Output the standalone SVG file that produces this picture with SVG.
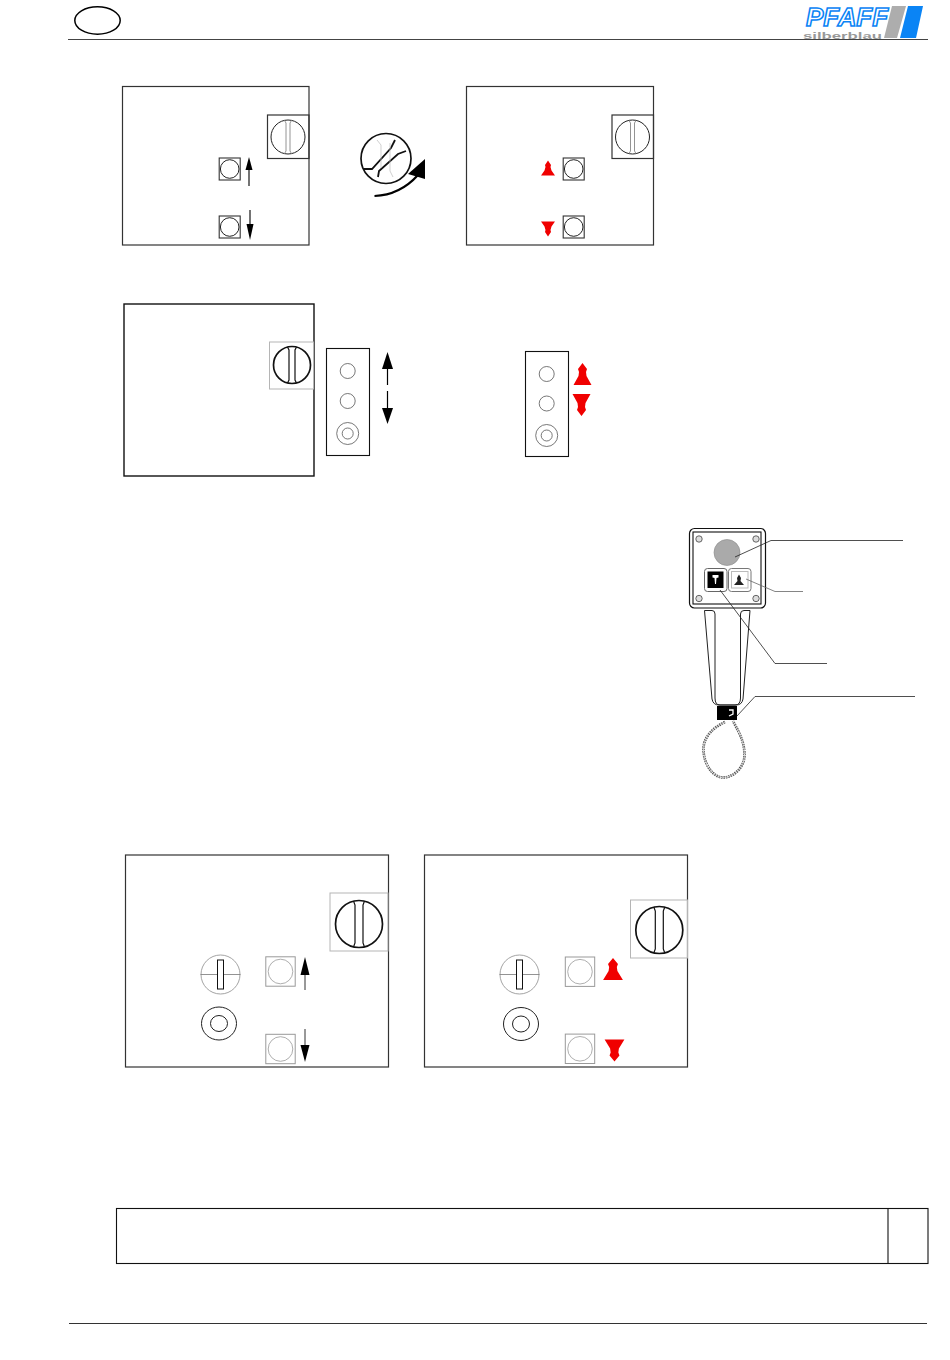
<svg xmlns="http://www.w3.org/2000/svg" xmlns:xlink="http://www.w3.org/1999/xlink" width="950" height="1360" viewBox="0 0 950 1360">
<style>
.l{fill:none;stroke:#222;stroke-width:1}
.p{fill:none;stroke:#333;stroke-width:1.2}
.g{fill:none;stroke:#b5b5b5;stroke-width:1}
.t{fill:none;stroke:#999;stroke-width:1}
.k{fill:none;stroke:#111;stroke-width:1.700}
.f{fill:none;stroke:#555;stroke-width:.8}
.r{fill:#f00000}
.b{fill:#000}
.s{fill:#ddd;stroke:#444;stroke-width:.8}
</style>
<defs>
<g id="knob"><circle r="17" class="l"/><path d="M-3.500-16.500L-2-14V14L-3.500 16.500M3.500-16.500L2-14V14L3.500 16.500" fill="none" stroke="#888" stroke-width=".9"/></g>
<g id="knobB"><circle r="23.500" class="k"/><path d="M-5.500-23L-4-19V19L-5.500 23M5.500-23L4-19V19L5.500 23" fill="none" stroke="#111" stroke-width="1.200"/></g>
<g id="knobM"><circle r="18.500" class="k"/><path d="M-4.500-18L-3-15V15L-4.500 18M4.500-18L3-15V15L4.500 18" fill="none" stroke="#111" stroke-width="1.200"/></g>
<g id="sq"><rect x="-10.500" y="-11" width="21" height="22" fill="none" stroke="#333" stroke-width="1.100"/><circle r="9.300" class="l"/></g>
<g id="sqG"><rect x="-14.700" y="-14.700" width="29.400" height="29.400" class="t"/><circle r="12.300" fill="none" stroke="#999" stroke-width=".8"/></g>
<polygon id="redS" class="r" points="0,-8 3,-3.500 2.500,-1.500 3.500,2 7,7 -7,7 -3.500,2 -2.500,-1.500 -3,-3.500"/>
<polygon id="redL" class="r" points="0,-12 4.500,-6 3.500,-3 4,1 9,10 -9,10 -4,1 -3.500,-3 -4.500,-6"/>
<g id="crs"><circle r="19.500" fill="none" stroke="#999" stroke-width=".9"/><path d="M-20 0H20" stroke="#777" stroke-width=".8"/><rect x="-3" y="-14.500" width="6" height="29" fill="#fff" stroke="#111" stroke-width="1"/></g>
<g id="rng"><ellipse rx="17.500" ry="16.500" class="l"/><ellipse rx="8.500" ry="8" class="l"/></g>
<g id="rngS"><circle r="11" class="f"/><circle r="5.500" class="f"/></g>
</defs>

<g id="header">
<ellipse cx="97.500" cy="20.500" rx="22.700" ry="13.700" fill="none" stroke="#000" stroke-width="1.500"/>
<path d="M68 39.500H928" stroke="#444" stroke-width="1"/>
</g>
<g id="logo">
<polygon points="892,6 906,6 897,38 884,38" fill="#adadad"/>
<polygon points="908,6 923,6 916,38 900,38" fill="#0a84f5"/>
<text x="806" y="25.500" font-family="'Liberation Sans',sans-serif" font-weight="bold" font-style="italic" font-size="25" textLength="82" lengthAdjust="spacingAndGlyphs" fill="#fff" stroke="#0a84f5" stroke-width="1.500">PFAFF</text>
<text x="803" y="38.500" font-family="'Liberation Sans',sans-serif" font-weight="bold" font-size="8.500" textLength="79" lengthAdjust="spacingAndGlyphs" fill="#999">silberblau</text>
</g>

<g id="panel1">
<rect x="122.500" y="86.500" width="186.500" height="158.500" class="p"/>
<rect x="267.500" y="115" width="41.500" height="43.500" class="p"/>
<use xlink:href="#knob" x="288" y="137"/>
<use xlink:href="#sq" x="229.700" y="169"/>
<use xlink:href="#sq" x="229.700" y="227"/>
<path d="M249 186V168" stroke="#000" stroke-width="1.100"/><polygon class="b" points="249,157 252.500,170 245.500,170"/>
<path d="M250 210V228" stroke="#000" stroke-width="1.100"/><polygon class="b" points="250,240 253.500,224 246.500,224"/>
</g>
<g id="dial">
<circle cx="386" cy="158.500" r="25" class="k"/>
<path d="M363 169H372L391 148L395 140M378 177L379 171L398 154L406 151" fill="none" stroke="#111" stroke-width="1.800"/>
<path d="M377 140L381 145V168M390 143V171L393 177" fill="none" stroke="#bbb" stroke-width=".7"/>
<path d="M374.500 196Q400 195 418 175" fill="none" stroke="#000" stroke-width="2.200"/>
<polygon class="b" points="425,159 425,179 408,174"/>
</g>
<g id="panel1b">
<rect x="466.500" y="86.500" width="187" height="158.500" class="p"/>
<rect x="612" y="115" width="41.500" height="43.500" class="p"/>
<use xlink:href="#knob" x="632.500" y="137"/>
<use xlink:href="#sq" x="573.700" y="169"/>
<use xlink:href="#sq" x="573.700" y="227"/>
<g transform="translate(548 168.500)"><use xlink:href="#redS"/></g>
<g transform="translate(548 228.500) scale(1 -1)"><use xlink:href="#redS"/></g>
</g>

<g id="panel2">
<rect x="124" y="304" width="190" height="172" fill="none" stroke="#111" stroke-width="1.400"/>
<rect x="269.500" y="342" width="44" height="47" class="g"/>
<use xlink:href="#knobM" x="292" y="365"/>
</g>
<g id="strip1">
<rect x="326.500" y="348.500" width="43" height="107" fill="none" stroke="#111" stroke-width="1.100"/>
<circle cx="347.700" cy="371" r="7.500" class="f"/><circle cx="347.700" cy="401" r="7.500" class="f"/>
<use xlink:href="#rngS" x="347.700" y="433.500"/>
<path d="M387.500 365V385M387.500 391V410" stroke="#000" stroke-width="1.200"/>
<polygon class="b" points="387.500,352 393,369 382,369"/><polygon class="b" points="387.500,424 393,408 382,408"/>
</g>
<g id="strip2">
<rect x="525.500" y="351.500" width="43" height="105" fill="none" stroke="#111" stroke-width="1.100"/>
<circle cx="546.700" cy="374" r="7.500" class="f"/><circle cx="546.700" cy="403.500" r="7.500" class="f"/>
<use xlink:href="#rngS" x="546.700" y="435.500"/>
<g transform="translate(582.500 375)"><use xlink:href="#redL"/></g>
<g transform="translate(581.500 404) scale(1 -1)"><use xlink:href="#redL"/></g>
</g>

<g id="controller">
<path d="M704.500 610.500H712Q715 610.500 715 614V698Q715 705 720 705H735Q740.500 705 740.500 698V614Q740.500 610.500 744 610.500H750L743 699Q742 705 736 705H719Q713 705 712 699Z" fill="#fff" stroke="#222" stroke-width="1"/>
<rect x="689.500" y="528.500" width="76" height="79.500" rx="5" fill="#fff" stroke="#111" stroke-width="1.200"/>
<rect x="693" y="532" width="68" height="72" fill="none" stroke="#111" stroke-width="1.100"/>
<circle cx="699" cy="539" r="3.200" class="s"/><circle cx="756" cy="539" r="3.200" class="s"/><circle cx="699" cy="598.500" r="3.200" class="s"/><circle cx="756" cy="598.500" r="3.200" class="s"/>
<circle cx="727" cy="552.500" r="13" fill="#aaa" stroke="#888" stroke-width=".6"/>
<rect x="704.500" y="568.500" width="22.500" height="23" rx="3" fill="#fff" stroke="#666"/>
<rect x="707.500" y="571.500" width="16" height="16.500" fill="#000"/>
<polygon points="712.500,575 718.500,575 718.500,577.500 716.500,578 716,584 715,584 714.500,578 712.500,577.500" fill="#fff"/>
<rect x="728.500" y="568.500" width="22.500" height="23" rx="3" fill="#fff" stroke="#777"/>
<rect x="731.500" y="571.500" width="16.500" height="16.500" fill="none" stroke="#bbb"/>
<polygon points="739,574.500 741,578 740.500,581 744,585 734,585 737.500,581 737,578" fill="#222"/>
<rect x="717" y="706" width="20" height="14" fill="#000"/>
<path d="M729 710H733V714L729 716" fill="none" stroke="#fff" stroke-width="1.300"/>
<path d="M725 722C712 728 703 738 703.500 750C704 766 714 777.500 723 777.500C733 777.500 744.500 768 744.500 755C744.500 740 737 729 733 721" fill="none" stroke="#555" stroke-width="2.600" stroke-dasharray="1.600 .8"/>
<path d="M725 722C712 728 703 738 703.500 750C704 766 714 777.500 723 777.500C733 777.500 744.500 768 744.500 755C744.500 740 737 729 733 721" fill="none" stroke="#fff" stroke-width=".8" stroke-dasharray="1.200 1.200"/>
</g>
<g id="leaders">
<path d="M735 557L771 540.500H903" fill="none" stroke="#222" stroke-width=".8"/>
<path d="M746 579L775 591.500H803" fill="none" stroke="#666" stroke-width=".8"/>
<path d="M720 590L775 663.500H827" fill="none" stroke="#222" stroke-width=".8"/>
<path d="M737 716L755 696.500H915" fill="none" stroke="#222" stroke-width=".8"/>
</g>

<g id="panel3">
<rect x="125.500" y="855" width="263" height="212" class="p"/>
<rect x="330" y="893" width="58" height="58" class="g"/>
<use xlink:href="#knobB" x="359" y="924"/>
<use xlink:href="#crs" x="220.500" y="974.500"/>
<use xlink:href="#rng" x="219" y="1023.500"/>
<use xlink:href="#sqG" x="280.500" y="971.500"/>
<use xlink:href="#sqG" x="280.500" y="1049"/>
<path d="M305 974V990" stroke="#333"/><polygon class="b" points="305,957 309.500,975 300.500,975"/>
<path d="M305 1029V1046" stroke="#333"/><polygon class="b" points="305,1062 309.500,1045 300.500,1045"/>
</g>
<g id="panel4">
<rect x="424.500" y="855" width="263" height="212" class="p"/>
<rect x="630.500" y="900" width="57" height="58" class="g"/>
<use xlink:href="#knobB" x="659.300" y="930"/>
<use xlink:href="#crs" x="519.500" y="974.500"/>
<use xlink:href="#rng" x="521" y="1024"/>
<use xlink:href="#sqG" x="580" y="971.700"/>
<use xlink:href="#sqG" x="580" y="1048.800"/>
<g transform="translate(613 970) scale(1.100 1)"><use xlink:href="#redL"/></g>
<g transform="translate(614.500 1049.500) scale(1.100 -1)"><use xlink:href="#redL"/></g>
</g>

<g id="table">
<rect x="116.500" y="1208.500" width="811.500" height="55" fill="none" stroke="#111" stroke-width="1.100"/>
<path d="M888 1208.500V1263.500" stroke="#111" stroke-width="1.100"/>
</g>
<g id="footer"><path d="M69 1323.500H927" stroke="#333" stroke-width="1"/></g>
</svg>
